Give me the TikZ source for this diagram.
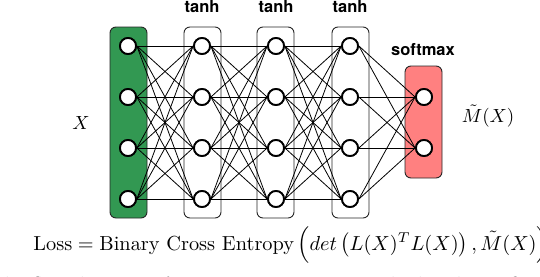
\documentclass[tikz,border=0pt]{standalone}
\usepackage{amsmath}
\usepackage{fontspec}
\newfontfamily\hv{TeX Gyre Heros}
\definecolor{ingreen}{RGB}{50,152,82}
\definecolor{outred}{RGB}{255,128,128}
\tikzset{
  neuron/.style={circle,draw=black,line width=1.8pt,fill=white,minimum size=16pt,inner sep=0pt},
  layerbox/.style={draw=black!85,line width=0.9pt,rounded corners=6pt},
  conn/.style={line width=0.8pt,black},
  actlabel/.style={anchor=base,font=\hv\bfseries,scale=1.65,inner sep=0pt},
  bigtext/.style={scale=1.9,inner sep=0pt}
}
\begin{document}
\begin{tikzpicture}[x=1pt,y=-1pt]
\useasboundingbox (0,0) rectangle (540,276);
% boxes
\draw[layerbox,fill=ingreen] (110,27) rectangle (147,218);
\draw[layerbox] (184,27) rectangle (221,218);
\draw[layerbox] (257,27) rectangle (294,218);
\draw[layerbox] (332,27) rectangle (369,218);
\draw[layerbox,fill=outred] (405,66) rectangle (442,178);
% nodes
\foreach \l/\x in {0/128,1/202,2/276,3/350}{
  \foreach \i/\y in {1/46,2/97,3/148,4/199}{
    \node[neuron] (n\l-\i) at (\x,\y) {};
  }
}
\node[neuron] (n4-1) at (424,97) {};
\node[neuron] (n4-2) at (424,148) {};
% connections
\foreach \l/\m in {0/1,1/2,2/3}{
  \foreach \i in {1,...,4}{
    \foreach \j in {1,...,4}{
      \draw[conn] (n\l-\i.east) -- (n\m-\j.west);
    }
  }
}
\foreach \i in {1,...,4}{
  \foreach \j in {1,2}{
    \draw[conn] (n3-\i.east) -- (n4-\j.west);
  }
}
% redraw nodes on top
\foreach \l/\x in {0/128,1/202,2/276,3/350}{
  \foreach \i/\y in {1/46,2/97,3/148,4/199}{
    \node[neuron] at (\x,\y) {};
  }
}
\node[neuron] at (424,97) {};
\node[neuron] at (424,148) {};
% labels
\node[actlabel] (t1) at (202,12) {tanh};
\node[actlabel] (t2) at (276,12) {tanh};
\node[actlabel] (t3) at (350,12) {tanh};
\node[actlabel] (sm) at (423,55) {softmax};
\node[bigtext] (xin) at (81,123) {$X$};
\node[bigtext] (mout) at (488,116) {$\tilde{M}(X)$};
\node[bigtext,scale=1.07,anchor=base west] (loss) at (33,250)
  {$\mathrm{Loss} = \text{Binary Cross Entropy}\left(det\left(L(X)^TL(X)\right), \tilde{M}(X)\right)$};
\node[bigtext,scale=1.07,anchor=base west] (cap) at (-4,291)
  {the flow diagram of Deep Representation. The loss has a fixed form};
\end{tikzpicture}
\end{document}
